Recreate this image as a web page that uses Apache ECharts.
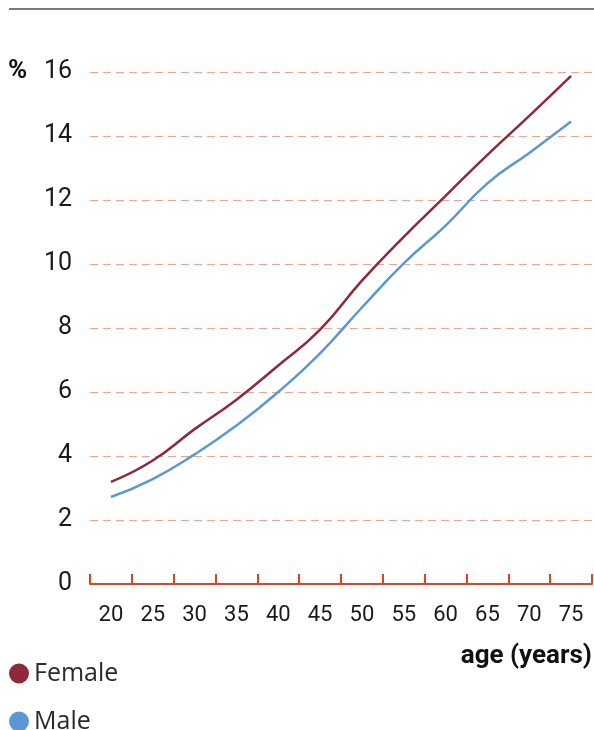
<!DOCTYPE html>
<html>
<head>
<meta charset="utf-8">
<script src="https://cdn.jsdelivr.net/npm/echarts@6/dist/echarts.min.js"></script>
<style>
html,body{margin:0;padding:0;background:#fff;}
#chart{width:594px;height:730px;}
</style>
</head>
<body>
<div id="chart"></div>
<script>
const categories = ['20','25','30','35','40','45','50','55','60','65','70','75'];
const femaleValues = [3.19, 3.86, 4.84, 5.76, 6.83, 7.95, 9.48, 10.85, 12.13, 13.41, 14.63, 15.88];
const maleValues = [2.72, 3.28, 4.05, 4.95, 6.0, 7.21, 8.64, 10.02, 11.2, 12.52, 13.47, 14.45];
const yTicks = { min: 0, max: 16, interval: 2 };

const font = 'Roboto, "DejaVu Sans", sans-serif';
const legendFont = '"Open Sans", Roboto, sans-serif';

const chart = echarts.init(document.getElementById('chart'));
chart.setOption({
  animation: false,
  backgroundColor: '#fff',
  grid: { left: 90, right: 2, top: 72, bottom: 146 },
  xAxis: {
    type: 'category',
    data: categories,
    boundaryGap: true,
    axisLine: { show: true, lineStyle: { color: '#e8401c', width: 2 } },
    axisTick: { show: true, inside: true, interval: 0, length: 10, lineStyle: { color: '#e8401c', width: 2 } },
    axisLabel: { show: true, interval: 0, color: '#1a1a1a', fontSize: 22, margin: 20, fontFamily: font },
    splitLine: { show: false }
  },
  yAxis: {
    type: 'value',
    min: yTicks.min,
    max: yTicks.max,
    interval: yTicks.interval,
    axisLine: { show: false },
    axisTick: { show: false },
    axisLabel: { color: '#1a1a1a', fontSize: 25, margin: 18, fontFamily: font },
    splitLine: { show: true, lineStyle: { color: '#f5a28f', type: [8, 5], width: 1.2 } }
  },
  legend: [
    {
      orient: 'vertical',
      left: 9,
      top: 661,
      padding: 0,
      icon: 'circle',
      itemWidth: 20,
      itemHeight: 20,
      textStyle: { fontSize: 25, color: '#2a2a2a', fontFamily: legendFont },
      data: ['Female']
    },
    {
      orient: 'vertical',
      left: 9,
      top: 709,
      padding: 0,
      icon: 'circle',
      itemWidth: 20,
      itemHeight: 20,
      textStyle: { fontSize: 25, color: '#2a2a2a', fontFamily: legendFont },
      data: ['Male']
    }
  ],
  series: [
    {
      name: 'Female',
      type: 'line',
      smooth: true,
      showSymbol: false,
      symbol: 'none',
      color: '#8f2838',
      lineStyle: { width: 2.5, color: '#8f2838' },
      data: femaleValues
    },
    {
      name: 'Male',
      type: 'line',
      smooth: true,
      showSymbol: false,
      symbol: 'none',
      color: '#5b97d2',
      lineStyle: { width: 2.5, color: '#5b97d2' },
      data: maleValues
    }
  ],
  graphic: [
    {
      type: 'line',
      shape: { x1: 9, y1: 9, x2: 594, y2: 9 },
      style: { stroke: '#7a7a7a', lineWidth: 2 }
    },
    {
      type: 'text',
      left: 8,
      top: 58,
      style: { text: '%', fill: '#111', font: 'bold 26px ' + font }
    },
    {
      type: 'text',
      right: 2,
      top: 643,
      style: { text: 'age (years)', fill: '#111', font: 'bold 26px ' + font }
    }
  ]
});
</script>
</body>
</html>
